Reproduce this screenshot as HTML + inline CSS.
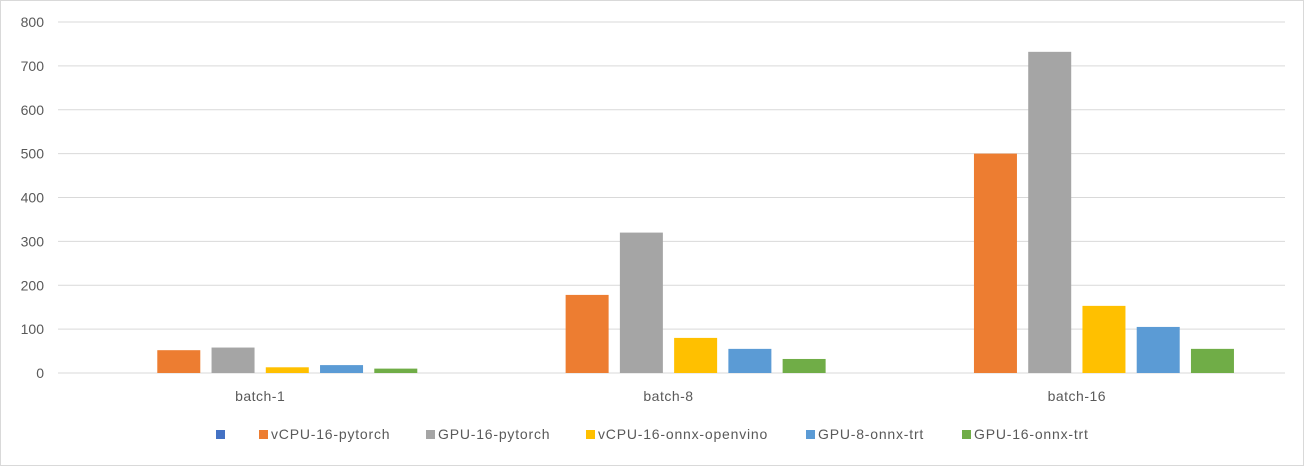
<!DOCTYPE html>
<html><head><meta charset="utf-8"><style>
body{margin:0;background:#fff;}
svg{display:block;font-family:"Liberation Sans",sans-serif;}
</style></head><body>
<svg width="1304" height="466">
<rect x="0.5" y="0.5" width="1303" height="465" fill="#fff" stroke="#d9d9d9"/>
<g id="grid"></g><g id="bars"></g><g id="labels"></g><g id="legend"></g>
</svg>
<script>
const categories=["batch-1","batch-8","batch-16"];
const seriesNames=["","vCPU-16-pytorch","GPU-16-pytorch","vCPU-16-onnx-openvino","GPU-8-onnx-trt","GPU-16-onnx-trt"];
const seriesColors=["#4472c4","#ed7d31","#a5a5a5","#ffc000","#5b9bd5","#70ad47"];
const s0=[0,0,0];
const s1=[52,178,500];
const s2=[58,320,732];
const s3=[13,80,153];
const s4=[18,55,105];
const s5=[10,32,55];
const yTicks=[0,100,200,300,400,500,600,700,800];
const series=[s0,s1,s2,s3,s4,s5];
const NS="http://www.w3.org/2000/svg";
const X0=56,X1=1281,Y0=373,Y1=22,YMAX=800;
const y=v=>Y0-(v/YMAX)*(Y0-Y1);
const catW=(X1-X0)/categories.length, step=54.25, bw=43;
function mk(t,a,p){const e=document.createElementNS(NS,t);for(const k in a)e.setAttribute(k,a[k]);p.appendChild(e);return e;}
const grid=document.getElementById('grid'),bars=document.getElementById('bars'),labels=document.getElementById('labels'),legend=document.getElementById('legend');
yTicks.forEach(t=>{
 const l=mk('line',{x1:58,x2:1285,y1:y(t),y2:y(t),stroke:'#d9d9d9','stroke-width':1},grid);
 
 
 const tx=mk('text',{x:44,y:y(t)+5,'text-anchor':'end','font-size':14,fill:'#595959'},labels);
 tx.textContent=t;
 
 
});
categories.forEach((c,i)=>{
 const cx=X0+catW*(i+0.5);
 series.forEach((s,j)=>{
  const bx=cx+(j-2.5)*step-bw/2;
  const r=mk('rect',{x:bx,y:y(s[i]),width:bw,height:Y0-y(s[i]),fill:seriesColors[j]},bars);
  
  
 });
 const t=mk('text',{x:cx,y:401,'text-anchor':'middle','font-size':14,fill:'#595959','letter-spacing':0.5},labels);
 t.textContent=c;
 
 
});
const legX=[216,259,426,586,806,962];
seriesNames.forEach((n,j)=>{
 const r=mk('rect',{x:legX[j],y:430,width:9,height:9,fill:seriesColors[j]},legend);
 
 
 const t=mk('text',{x:legX[j]+12,y:439,'font-size':14,fill:'#595959','letter-spacing':0.8},legend);
 t.textContent=n;
 
 
});
</script>
</body></html>
